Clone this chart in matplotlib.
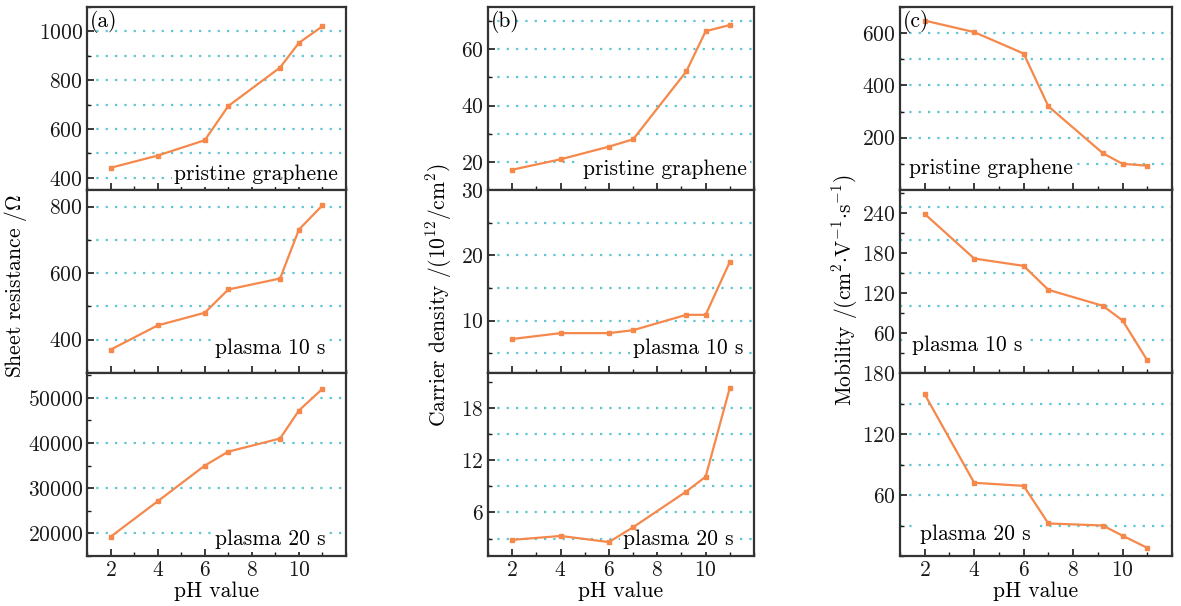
import matplotlib
matplotlib.use("Agg")
import matplotlib.pyplot as plt
from matplotlib.ticker import AutoMinorLocator

plt.rcParams['font.family'] = 'cmr10'
plt.rcParams['mathtext.fontset'] = 'cm'
plt.rcParams['axes.formatter.use_mathtext'] = True

# pH values shared by all panels
ph = [2, 4, 6, 7, 9.2, 10, 11]

# (a) sheet resistance
res_pristine = [441, 491, 554, 694, 852, 953, 1021]
res_10s = [370, 443, 481, 551, 584, 731, 804]
res_20s = [19250, 27100, 35000, 38100, 41000, 47200, 52000]

# (b) carrier density
dens_pristine = [17.2, 20.9, 25.4, 28.0, 52.1, 66.4, 68.6]
dens_10s = [7.2, 8.1, 8.1, 8.55, 10.9, 10.9, 19.0]
dens_20s = [2.85, 3.3, 2.6, 4.3, 8.4, 10.1, 20.3]

# (c) mobility
mob_pristine = [648, 604, 522, 320, 141, 100, 93]
mob_10s = [239, 172, 161, 125, 101, 79, 19]
mob_20s = [159, 72, 69, 32, 30, 20, 8]

row_labels = ['pristine graphene', 'plasma 10 s', 'plasma 20 s']
xticks = [2, 4, 6, 8, 10]

ORANGE = '#f5884a'
GRID = '#5ec6d3'

fig = plt.figure(figsize=(11.81, 6.06), dpi=100)
W, H = 1181.0, 606.0

col_x = [(87, 346), (488, 754), (900, 1172)]
row_y = [(7, 190), (190, 373), (373, 556)]

panels = [
    # col a
    [dict(y=res_pristine, ylim=(350, 1100), ticks=[400, 600, 800, 1000],
          grid=[400, 500, 600, 700, 800, 900, 1000], txt=(0.97, 0.055, 'right')),
     dict(y=res_10s, ylim=(300, 850), ticks=[400, 600, 800],
          grid=[400, 500, 600, 700, 800], txt=(0.92, 0.105, 'right')),
     dict(y=res_20s, ylim=(15000, 55500), ticks=[20000, 30000, 40000, 50000],
          grid=[20000, 30000, 40000, 50000], txt=(0.92, 0.06, 'right'))],
    # col b
    [dict(y=dens_pristine, ylim=(10, 75), ticks=[20, 40, 60],
          grid=[20, 30, 40, 50, 60, 70], txt=(0.973, 0.08, 'right')),
     dict(y=dens_10s, ylim=(2, 30), ticks=[10, 20, 30],
          grid=[5, 10, 15, 20, 25], txt=(0.96, 0.105, 'right')),
     dict(y=dens_20s, ylim=(1, 22), ticks=[6, 12, 18],
          grid=[3, 6, 9, 12, 15, 18], txt=(0.922, 0.06, 'right'))],
    # col c
    [dict(y=mob_pristine, ylim=(0, 700), ticks=[200, 400, 600],
          grid=[100, 200, 300, 400, 500, 600], txt=(0.034, 0.086, 'left')),
     dict(y=mob_10s, ylim=(0, 275), ticks=[60, 120, 180, 240],
          grid=[50, 100, 150, 200, 250], txt=(0.043, 0.12, 'left')),
     dict(y=mob_20s, ylim=(0, 180), ticks=[60, 120, 180],
          grid=[30, 60, 90, 120, 150], txt=(0.074, 0.09, 'left'))],
]

for ci, (x0, x1) in enumerate(col_x):
    for ri, (y0, y1) in enumerate(row_y):
        p = panels[ci][ri]
        ax = fig.add_axes([x0 / W, 1 - y1 / H, (x1 - x0) / W, (y1 - y0) / H])
        for g in p['grid']:
            ax.axhline(g, color=GRID, lw=1.6, ls=(0, (1, 3.2)), zorder=1)
        ax.plot(ph, p['y'], color=ORANGE, lw=1.6, marker='s', ms=3.2, zorder=4)
        ax.set_xlim(1, 12)
        ax.set_ylim(*p['ylim'])
        ax.set_xticks(xticks)
        ax.xaxis.set_minor_locator(AutoMinorLocator(2))
        ax.set_yticks(p['ticks'])
        ax.yaxis.set_minor_locator(AutoMinorLocator(2))
        ax.tick_params(which='both', direction='in', top=False, right=False,
                       labelsize=15.5, colors='#1a1a1a')
        ax.tick_params(which='major', length=5, width=1.2, pad=3)
        ax.tick_params(which='minor', length=3, width=1.0)
        if ri < 2:
            ax.tick_params(labelbottom=False)
        else:
            ax.set_xlabel('pH value', fontsize=15.5, labelpad=1)
        for s in ax.spines.values():
            s.set_linewidth(1.6)
            s.set_color('#333333')
        tx, ty, ha = p['txt']
        ax.text(tx, ty, row_labels[ri], transform=ax.transAxes, ha=ha,
                va='baseline', fontsize=15.5, zorder=3,
                bbox=dict(facecolor='white', edgecolor='none', pad=2))
        if ri == 0:
            ax.text(0.012, 0.985, '(%s)' % 'abc'[ci], transform=ax.transAxes,
                    ha='left', va='top', fontsize=15.5, zorder=5)

fig.text(16 / W, 1 - 286 / H, r'Sheet resistance /$\Omega$', rotation=90,
         ha='center', va='center', fontsize=15.5)
fig.text(439 / W, 1 - 295 / H, r'Carrier density /(10$^{12}$/cm$^2$)', rotation=90,
         ha='center', va='center', fontsize=15.5)
fig.text(845 / W, 1 - 290 / H, r'Mobility /(cm$^2{\cdot}$V$^{-1}{\cdot}$s$^{-1}$)', rotation=90,
         ha='center', va='center', fontsize=15.5)

fig.savefig('out.png', dpi=100, facecolor='white')
